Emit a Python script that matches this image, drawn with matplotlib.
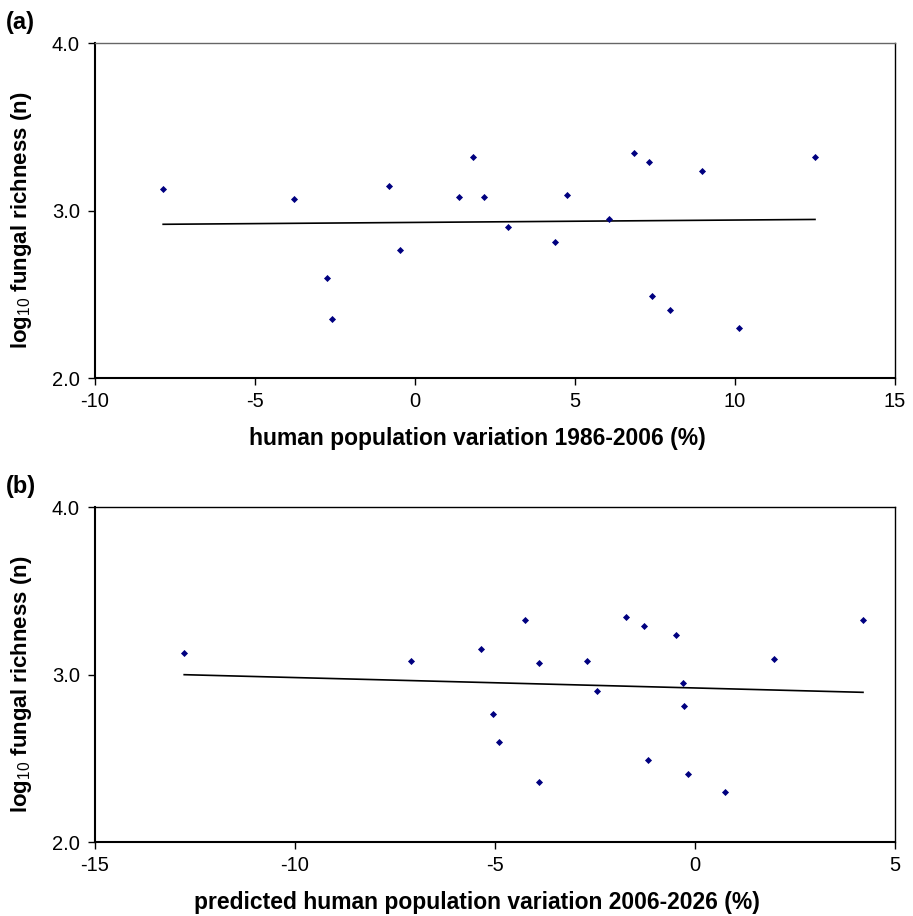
import numpy as np
import matplotlib
matplotlib.use("Agg")
import matplotlib.pyplot as plt

plt.rcParams['font.family'] = ['Liberation Sans', 'DejaVu Sans']
plt.rcParams['mathtext.fontset'] = 'custom'
plt.rcParams['mathtext.rm'] = 'Liberation Sans'
plt.rcParams['mathtext.bf'] = 'Liberation Sans:bold'
plt.rcParams['axes.unicode_minus'] = False

# (a) human population variation 1986-2006 (%) vs log10 fungal richness
x_a = [-7.87, -3.79, -0.80, -2.75, -2.59, -0.47, 1.37, 1.82, 2.17, 2.91,
       4.36, 4.74, 6.06, 6.85, 7.31, 7.42, 7.97, 8.96, 10.14, 12.5]
y_a = [3.128, 3.067, 3.149, 2.597, 2.355, 2.764, 3.079, 3.322, 3.079, 2.902,
       2.810, 3.093, 2.948, 3.341, 3.290, 2.488, 2.406, 3.236, 2.301, 3.322]

# (b) predicted human population variation 2006-2026 (%)
x_b = [-12.77, -7.11, -4.25, -5.35, -3.91, -2.71, -1.72, -1.28, -0.48, 1.98,
       4.20, -2.45, -0.29, -0.27, -5.06, -4.91, -1.18, -0.18, -3.91, 0.75]
y_b = [3.130, 3.081, 3.324, 3.151, 3.071, 3.081, 3.344, 3.292, 3.236, 3.095,
       3.324, 2.903, 2.949, 2.812, 2.766, 2.598, 2.487, 2.407, 2.357, 2.301]

panels = [
    ("(a)", x_a, y_a, (-10, 15), [-10, -5, 0, 5, 10, 15],
     "human population variation 1986-2006 (%)", 0.953),
    ("(b)", x_b, y_b, (-15, 5), [-15, -10, -5, 0, 5],
     "predicted human population variation 2006-2026 (%)", 0.4465),
]

fig = plt.figure(figsize=(9.13, 9.16), dpi=100)
W, H = 913, 916

for tag, xs, ys, xlim, xticks, xlabel, top in panels:
    ax = fig.add_axes([95 / W, top - 335 / H, 800 / W, 335 / H])
    ax.scatter(xs, ys, marker='D', s=13, color='#000080', zorder=3, linewidths=0)

    # linear trend line
    k, b = np.polyfit(xs, ys, 1)
    xx = np.array([min(xs), max(xs)])
    ax.plot(xx, k * xx + b, color='black', lw=1.2, zorder=2)

    ax.set_xlim(*xlim)
    ax.set_ylim(2.0, 4.0)
    ax.set_xticks(xticks)
    ax.set_yticks([2.0, 3.0, 4.0])
    ax.set_yticklabels(["2.0", "3.0", "4.0"])
    ax.tick_params(direction='out', length=5, width=1, labelsize=14.5)
    ax.tick_params(axis='x', pad=5)
    ax.tick_params(axis='y', pad=6)

    ax.spines['left'].set_linewidth(1.5)
    ax.spines['bottom'].set_linewidth(1.5)
    ax.spines['top'].set_linewidth(1.0)
    ax.spines['right'].set_linewidth(1.0)
    if tag == "(a)":
        ax.spines['top'].set_color('#666666')

    ax.set_xlabel(xlabel, fontsize=16.5, fontweight='bold')
    ax.xaxis.set_label_coords((477 - 95) / 800, -0.145)
    ax.set_ylabel(r"log$_{\mathrm{10}}$ fungal richness (n)", fontsize=16,
                  fontweight='bold')
    ax.yaxis.set_label_coords(-0.076, 0.47)

    fig.text(6 / W, top + 32 / H, tag, fontsize=17, fontweight='bold',
             va='top', ha='left')

fig.savefig("out.png", dpi=100)
